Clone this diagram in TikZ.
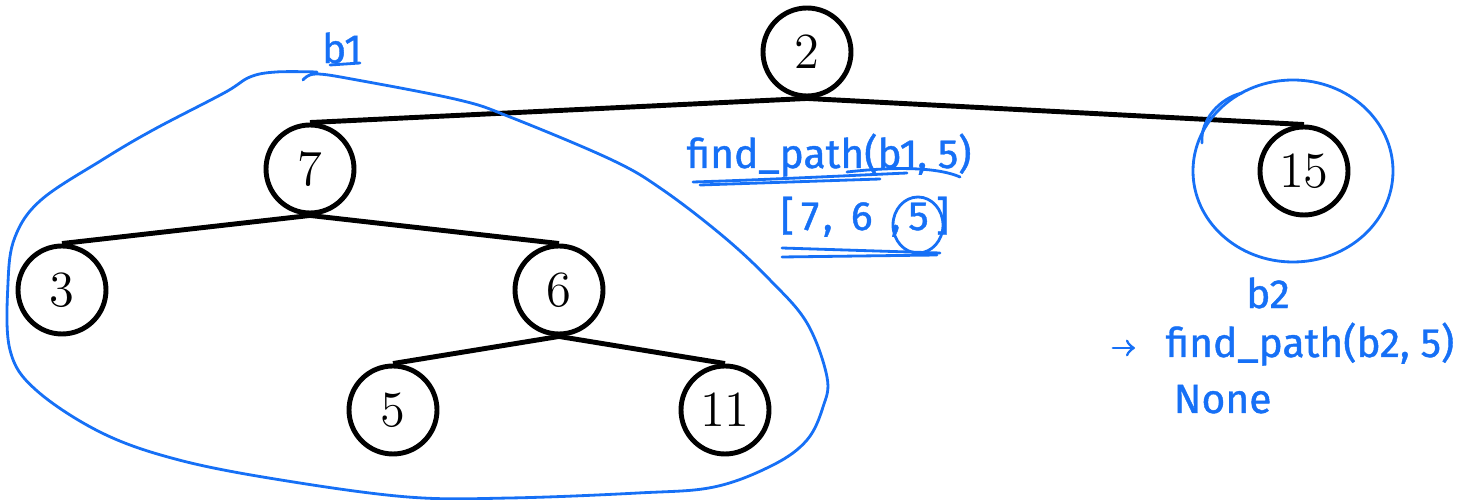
\documentclass[tikz,border=0pt]{standalone}
\usepackage{fontspec}
\newfontfamily\handfont{Fira Sans}[FakeBold=1]
\usepackage{tikz}

\definecolor{pen}{RGB}{22,112,246}

\tikzset{
  vertex/.style={draw,circle,line width=1.4pt,inner sep=0pt,minimum size=0.88cm,
    font=\fontsize{15}{18}\selectfont},
  branch/.style={line width=1.4pt},
  ink/.style={pen,line width=0.8pt,line cap=round,line join=round},
  note/.style={pen,font=\handfont\fontsize{11.6}{13}\selectfont,inner sep=0pt}
}

\begin{document}
\begin{tikzpicture}[scale=1.0]
\useasboundingbox (0,0) rectangle (14.77,-5.00);
% tree
\node[vertex] (n2) at (8.07,-0.52) {$2$};
\node[vertex] (n7) at (3.10,-1.69) {$7$};
\node[vertex] (n15) at (13.04,-1.71) {$15$};
\node[vertex] (n3) at (0.62,-2.90) {$3$};
\node[vertex] (n6) at (5.59,-2.90) {$6$};
\node[vertex] (n5) at (3.93,-4.10) {$5$};
\node[vertex] (n11) at (7.25,-4.10) {$11$};
\draw[branch] (n2.south) -- (n7.north);
\draw[branch] (n2.south) -- (n15.north);
\draw[branch] (n7.south) -- (n3.north);
\draw[branch] (n7.south) -- (n6.north);
\draw[branch] (n6.south) -- (n5.north);
\draw[branch] (n6.south) -- (n11.north);
% b1
\draw[ink] plot[smooth,tension=0.6] coordinates {(3.17,-0.72) (2.76,-0.72) (2.50,-0.77)
  (2.24,-0.93) (1.53,-1.30) (1.02,-1.60) (0.41,-2.00) (0.15,-2.37) (0.08,-2.83)
  (0.10,-3.50) (0.36,-3.90) (1.02,-4.33) (1.79,-4.60) (2.81,-4.80) (4.08,-4.97)
  (5.10,-4.98) (6.38,-4.93) (7.14,-4.87) (7.73,-4.65) (8.07,-4.40) (8.23,-4.07)
  (8.27,-3.77) (8.07,-3.23) (7.70,-2.80) (7.24,-2.37) (6.63,-1.90) (6.12,-1.60)
  (5.10,-1.17) (4.59,-1.00) (3.57,-0.80) (3.16,-0.74) (3.03,-0.80)};
\draw[ink] (3.30,-0.65) -- (3.60,-0.63);
\node[note] (b1) at (3.42,-0.48) {b1};
% b1 call
\node[note,anchor=base west] (call1) at (6.86,-1.68) {find\_path(b1, 5)};
\draw[ink] (6.93,-1.82) .. controls (7.60,-1.80) and (8.40,-1.76) .. (9.07,-1.73);
\draw[ink] (7.00,-1.85) .. controls (7.60,-1.83) and (8.20,-1.81) .. (8.80,-1.79);
\draw[ink] (8.47,-1.72) .. controls (9.00,-1.66) and (9.40,-1.68) .. (9.60,-1.77);
\node[note,anchor=base west,font=\handfont\fontsize{11.6}{13}\selectfont\addfontfeature{LetterSpace=18}]
  (res1) at (7.80,-2.30) {[7, 6 ,5]};
\draw[ink] (9.18,-2.25) ellipse (0.25 and 0.28);
\draw[ink] (7.82,-2.48) -- (9.40,-2.53);
\draw[ink] (7.82,-2.57) -- (9.37,-2.55);
% b2
\draw[ink] (12.93,-1.71) ellipse (1.00 and 0.91);
\draw[ink] (12.02,-1.43) .. controls (12.00,-1.20) and (12.20,-0.98) .. (12.42,-0.93);
\node[note] (b2) at (12.68,-2.93) {b2};
\node[note,anchor=base west] (call2) at (11.65,-3.57) {find\_path(b2, 5)};
\node[note,anchor=base west] (res2) at (11.73,-4.13) {None};
\coordinate (tail) at (11.13,-3.48);
\draw[ink,->] (tail) -- ([xshift=-3mm]call2.west |- tail);
\end{tikzpicture}
\end{document}
